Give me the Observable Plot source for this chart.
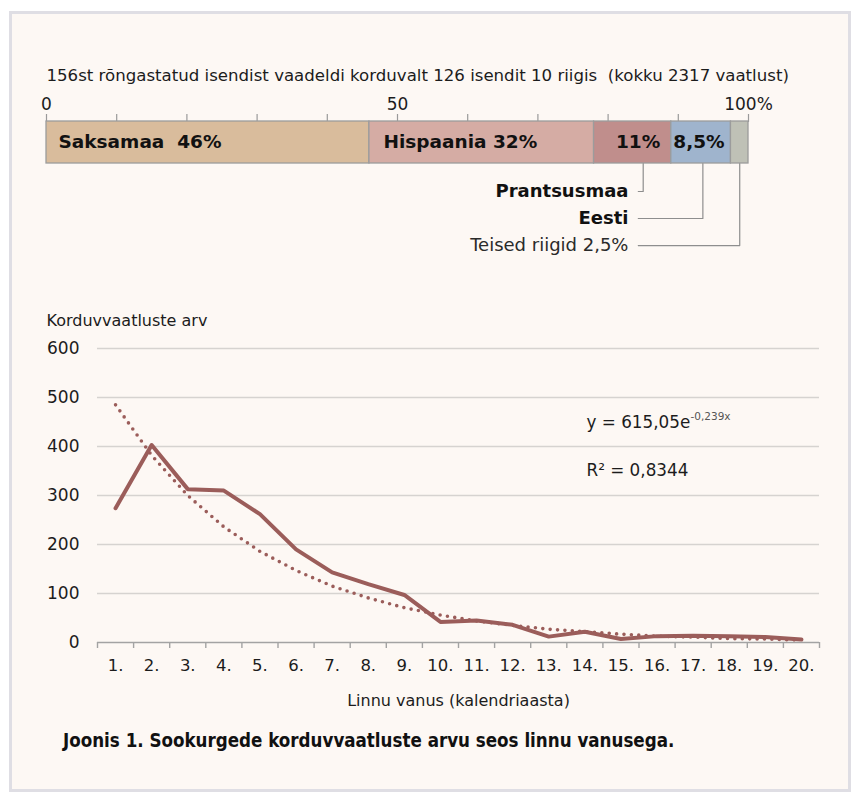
<!DOCTYPE html>
<html>
<head>
<meta charset="utf-8">
<script src="https://cdn.jsdelivr.net/npm/d3@7"></script>
<script src="https://cdn.jsdelivr.net/npm/@observablehq/plot@0.6"></script>
<style>
  html, body { margin: 0; padding: 0; background: #ffffff; }
  #panel { position: absolute; left: 9px; top: 11px; width: 836px; height: 775px;
           background: #fdf8f4; border: 3px solid #dfdee4; }
  #chart { position: absolute; left: 0; top: 0; width: 853px; height: 792px; }
  #chart svg { position: absolute; left: 0; top: 0; overflow: visible; }
  #caption { position: absolute; left: 63px; top: 730px; white-space: nowrap;
             font-family: "DejaVu Sans Condensed", "DejaVu Sans"; font-stretch: condensed;
             font-weight: bold; font-size: 18.6px; color: #111; }
</style>
</head>
<body>
<div id="panel"></div>
<div id="chart"></div>
<div id="caption">Joonis 1. Sookurgede korduvvaatluste arvu seos linnu vanusega.</div>
<script>
// ---------------- data ----------------
const barTitle = "156st rõngastatud isendist vaadeldi korduvalt 126 isendit 10 riigis  (kokku 2317 vaatlust)";
const countries = ["Saksamaa", "Hispaania", "Prantsusmaa", "Eesti", "Teised riigid"];
const shares = [46, 32, 11, 8.5, 2.5];
const barLabels = ["Saksamaa  46%", "Hispaania 32%", "11%", "8,5%", ""];
const calloutLabels = ["", "", "Prantsusmaa", "Eesti", "Teised riigid 2,5%"];
const shareTicks = [0, 10, 20, 30, 40, 50, 60, 70, 80, 90, 100];
const shareTickLabels = {0: "0", 50: "50", 100: "100%"};

const ages = [1, 2, 3, 4, 5, 6, 7, 8, 9, 10, 11, 12, 13, 14, 15, 16, 17, 18, 19, 20];
const observations = [274, 403, 313, 310, 262, 190, 143, 119, 97, 42, 45, 36, 12, 22, 7, 13, 14, 13, 11, 6];
const trend = [485, 382, 300, 236, 186, 147, 115, 91, 71, 56, 44, 35, 27, 22, 17, 13, 11, 8, 7, 5];
const yTicks = [0, 100, 200, 300, 400, 500, 600];
const yTitle = "Korduvvaatluste arv";
const xTitle = "Linnu vanus (kalendriaasta)";
const equationText = "y = 615,05e";
const exponentText = "-0,239x";
const rSquaredText = "R² = 0,8344";

// ---------------- styles ----------------
const segColors = ["#d9bc9c", "#d5aca4", "#c08e8c", "#9fb4cd", "#bfc1b6"];
const labelAnchors = ["start", "start", "end", "start", "start"];
const labelInsets = [12, 14, -11, 2, 0];
const ink = "#1c1c1c";
const lineColor = "#9b5d5a";
const FONT = "DejaVu Sans";

// ---------------- top stacked bar ----------------
let acc = 0;
const segs = countries.map((c, i) => {
  const s = {country: c, x1: acc, x2: acc + shares[i], share: shares[i],
             label: barLabels[i], callout: calloutLabels[i], color: segColors[i],
             anchor: labelAnchors[i], inset: labelInsets[i], bold: i < 4, y1: 0, y2: 1, mid: 0.5};
  acc += shares[i];
  return s;
});
const callouts = segs.filter(d => d.callout);
const calloutTextX = 82.9;          // layout: right edge of callout text column (% units)
const calloutGap = 1.4;             // gap between text and leader (% units)
const leaderPaths = [];
callouts.forEach((d, j) => {
  const row = 1.667 + 0.643 * j;    // layout rows below the bar
  const ax = d.x2 - Math.min(d.share / 2, 4);
  d.row = row;
  d.tx = calloutTextX;
  leaderPaths.push({k: j, x: ax, y: 1}, {k: j, x: ax, y: row}, {k: j, x: calloutTextX + calloutGap, y: row});
});

const insideLabelMarks = segs.filter(d => d.label).map(d =>
  Plot.text([d], {x: d.anchor === "start" ? "x1" : "x2", y: "mid", text: "label", textAnchor: d.anchor,
                  dx: d.inset, fontWeight: "bold", fontSize: 18.5, fill: "#111"}));

const topPlot = Plot.plot({
  width: 853, height: 260,
  marginTop: 121, marginLeft: 46, marginRight: 105, marginBottom: 0,
  x: {domain: [0, 100], range: [46, 748], label: null},
  y: {domain: [0, 1], range: [121, 163], label: null, axis: null},
  color: {type: "identity"},
  style: {background: "transparent", fontFamily: FONT, fontSize: "16.5px", color: ink},
  marks: [
    Plot.text([barTitle], {frameAnchor: "top-left", dy: -46, textAnchor: "start", lineAnchor: "middle", fill: ink, fontSize: 16.6}),
    Plot.axisX({anchor: "top", ticks: shareTicks, tickSize: 8, tickPadding: 4, stroke: "#9a9a9a", strokeWidth: 1.2,
                tickFormat: d => shareTickLabels[d] ?? "", fontSize: 17, fill: ink}),
    Plot.rect(segs, {x1: "x1", x2: "x2", y1: "y1", y2: "y2", fill: "color", stroke: "#9c9c9c", strokeWidth: 1.3}),
    ...insideLabelMarks,
    Plot.line(leaderPaths, {x: "x", y: "y", z: "k", stroke: "#8e8e8e", strokeWidth: 1.2}),
    Plot.text(callouts.filter(d => d.bold), {x: "tx", y: "row", text: "callout", textAnchor: "end",
              fontWeight: "bold", fontSize: 18, fill: "#111"}),
    Plot.text(callouts.filter(d => !d.bold), {x: "tx", y: "row", text: "callout", textAnchor: "end",
              fontSize: 18, fill: "#2a2a2a"})
  ]
});

// ---------------- line chart ----------------
const boundaries = d3.range(0.5, 21, 1);
const rows = ages.map((a, i) => ({age: a, obs: observations[i], fit: trend[i]}));

const linePlot = Plot.plot({
  width: 853, height: 792,
  marginTop: 348, marginBottom: 150, marginLeft: 97, marginRight: 34,
  x: {domain: [0.5, 20.5], label: null},
  y: {domain: [0, 600], label: null},
  style: {background: "transparent", fontFamily: FONT, fontSize: "16.5px", color: ink},
  marks: [
    Plot.gridY(yTicks.filter(d => d > 0), {stroke: "#d6d3d0", strokeOpacity: 1, strokeWidth: 1.6}),
    Plot.axisY(yTicks, {tickSize: 0, tickPadding: 18, fontSize: 17, fill: ink}),
    Plot.ruleY([0], {stroke: "#a3a3a3", strokeWidth: 1.6}),
    Plot.axisX(boundaries, {tickSize: 6, tickFormat: () => "", stroke: "#a3a3a3", strokeWidth: 1.4}),
    Plot.axisX(ages, {tickSize: 0, tickPadding: 17, tickFormat: d => `${d}.`, fontSize: 16.5, fill: ink}),
    Plot.line(rows, {x: "age", y: "fit", stroke: lineColor, strokeWidth: 3.6, strokeDasharray: "0,7.4", strokeLinecap: "round"}),
    Plot.line(rows, {x: "age", y: "obs", stroke: lineColor, strokeWidth: 4}),
    Plot.text([yTitle], {frameAnchor: "top-left", dx: -51, dy: -28, textAnchor: "start", lineAnchor: "middle", fill: ink, fontSize: 16}),
    Plot.text([xTitle], {frameAnchor: "bottom", dy: 58, lineAnchor: "middle", fill: ink, fontSize: 16}),
    Plot.text([equationText], {frameAnchor: "top-left", dx: 489, dy: 74, textAnchor: "start", lineAnchor: "middle", fill: ink, fontSize: 16.8}),
    Plot.text([exponentText], {frameAnchor: "top-left", dx: 593, dy: 68, textAnchor: "start", lineAnchor: "middle", fill: "#555", fontSize: 10.5}),
    Plot.text([rSquaredText], {frameAnchor: "top-left", dx: 489, dy: 122, textAnchor: "start", lineAnchor: "middle", fill: ink, fontSize: 16.8})
  ]
});

const chart = document.getElementById("chart");
chart.appendChild(linePlot);
chart.appendChild(topPlot);
</script>
</body>
</html>
